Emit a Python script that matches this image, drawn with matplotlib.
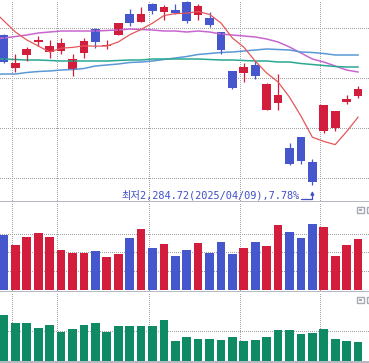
import matplotlib
matplotlib.use("Agg")
import matplotlib.pyplot as plt
from matplotlib.patches import Rectangle
import numpy as np
import pandas as pd

# KOSPI daily candles, 2025-02-28 .. 2025-04-15
opens = [2585, 2519, 2545, 2571, 2551, 2553, 2515, 2549, 2597, 2563, 2585, 2627, 2611, 2647, 2631, 2635,
         2651, 2625, 2619, 2591, 2513, 2509, 2525, 2435, 2449, 2359, 2381, 2331, 2393, 2399, 2451, 2463]
highs = [2587, 2547, 2561, 2583, 2575, 2579, 2547, 2579, 2599, 2575, 2609, 2637, 2641, 2649, 2645, 2647,
         2653, 2647, 2631, 2591, 2513, 2529, 2533, 2489, 2507, 2369, 2381, 2337, 2445, 2433, 2465, 2483]
lows = [2529, 2511, 2533, 2563, 2539, 2547, 2503, 2539, 2559, 2557, 2585, 2603, 2611, 2627, 2615, 2627,
        2609, 2615, 2601, 2547, 2477, 2491, 2497, 2435, 2435, 2325, 2327, 2284.72, 2389, 2393, 2447, 2459]
closes = [2531, 2529, 2557, 2575, 2563, 2569, 2537, 2573, 2571, 2565, 2609, 2609, 2627, 2633, 2641, 2629,
          2613, 2643, 2605, 2555, 2479, 2521, 2503, 2487, 2465, 2327, 2333, 2291, 2445, 2433, 2457, 2477]
# closes of the 5 days before the window (only for the 5-day average)
prev_closes = [2641, 2639, 2637, 2635, 2623]

# longer averages, first value is the day before the window
ma20 = [2577, 2579, 2582, 2585, 2589, 2591, 2593, 2593, 2593, 2593, 2594, 2595, 2597, 2596, 2595, 2593, 2593,
        2591, 2593, 2591, 2587, 2585, 2583, 2581, 2577, 2571, 2561, 2549, 2537, 2531, 2523, 2515, 2511]
ma60 = [2506, 2507, 2507, 2510, 2512, 2513, 2515, 2516, 2518, 2523, 2525, 2527, 2530, 2531, 2533, 2536, 2539,
        2542, 2546, 2548, 2550, 2551, 2553, 2555, 2557, 2556, 2555, 2551, 2550, 2548, 2545, 2545, 2545]
ma120 = [2537, 2537, 2536, 2535, 2535, 2534, 2533, 2533, 2533, 2533, 2533, 2534, 2535, 2535, 2537, 2537, 2537,
         2537, 2537, 2536, 2535, 2535, 2534, 2533, 2533, 2531, 2531, 2528, 2526, 2524, 2522, 2521, 2521]

volume = [55, 45, 53, 57, 53, 40, 37, 37, 39, 33, 36, 52, 61, 42, 46, 34,
          40, 47, 37, 48, 36, 42, 48, 44, 65, 58, 52, 66, 63, 34, 45, 51]
indicator = [46, 38, 38, 33, 36, 29, 32, 36, 38, 29, 35, 35, 35, 35, 41, 20,
             24, 22, 22, 21, 24, 20, 21, 24, 31, 31, 27, 28, 32, 22, 20, 19]

period_starts = [1, 5, 13, 21, 28]   # candles where a dotted vertical line sits
price_grid = [2300, 2400, 2500, 2600]
vol_grid = [19, 38, 56]
ind_grid = [30]
low_label = "최저2,284.72(2025/04/09),7.78%"

UP = "#d21d3c"
DOWN = "#4656cd"
GREEN = "#0e8a64"
SEP = "#b4b8c0"
GRID = "#a2a2a2"
TXT = "#3f4fc9"

W, H = 369, 363
fig = plt.figure(figsize=(W / 100, H / 100), dpi=100)
grid_kw = dict(color=GRID, lw=0.72, ls=(0, (1, 2)), antialiased=False)


def panel(top, bottom):
    ax = fig.add_axes([0, (H - bottom) / H, 1, (bottom - top) / H])
    for s in ("top", "left", "right"):
        ax.spines[s].set_visible(False)
    ax.spines["bottom"].set_color(SEP)
    ax.spines["bottom"].set_linewidth(1.4)
    ax.tick_params(length=0, labelleft=False, labelbottom=False)
    ax.set_xlim(-0.35, 31.96)
    ax.set_xticks([d - 0.33 for d in period_starts])
    ax.set_axisbelow(True)
    return ax


ax_p = panel(0, 202)
ax_v = panel(202, 292)
ax_i = panel(292, 361.5)

n = len(closes)
x = np.arange(n)
o = np.array(opens, float)
c = np.array(closes, float)
colors = [UP if cc >= oo else DOWN for oo, cc in zip(o, c)]

# price panel
ax_p.set_ylim(2251, 2655)
ax_p.set_yticks(price_grid)
ax_p.grid(True, **grid_kw)
ax_p.vlines(x, lows, highs, colors=colors, lw=0.9)
body = np.maximum(np.abs(c - o), 1.5)
ax_p.bar(x, body, bottom=np.minimum(o, c), width=0.76, color=colors, lw=0)

ma5 = pd.Series(prev_closes + closes).rolling(5).mean().dropna().values
xm = np.arange(-1, n)
ax_p.plot(xm, ma20, color="#c866cf", lw=1.1, zorder=1)
ax_p.plot(xm, ma60, color="#5b98d4", lw=1.1, zorder=1)
ax_p.plot(xm, ma120, color="#2aa893", lw=1.1, zorder=1)
ax_p.plot(xm, ma5, color="#e4575a", lw=0.9, zorder=3)

i_low = int(np.argmin(lows))
ax_p.text(i_low - 1.15, 2265, low_label, ha="right", va="center", color=TXT,
          fontsize=7.4, family=["DejaVu Sans Mono", "Noto Sans CJK KR"])
ax_p.annotate("", xy=(i_low, 2273), xytext=(i_low - 1.0, 2257),
              arrowprops=dict(arrowstyle="-|>", color=TXT, lw=0.9, mutation_scale=5,
                              shrinkA=0, shrinkB=0,
                              connectionstyle="angle,angleA=0,angleB=90,rad=0"))

# volume panel
ax_v.set_ylim(-2, 88)
ax_v.set_yticks(vol_grid)
ax_v.grid(True, **grid_kw)
ax_v.bar(x, volume, width=0.76, color=colors, lw=0)

# lower indicator panel
ax_i.set_ylim(-0.5, 69)
ax_i.set_yticks(ind_grid)
ax_i.grid(True, **grid_kw)
ax_i.bar(x, indicator, width=0.76, color=GREEN, lw=0)


# little maximize buttons in the panel corners
def px_rect(x0, y0, w, h, **kw):
    fig.add_artist(Rectangle((x0 / W, 1 - (y0 + h) / H), w / W, h / H,
                             transform=fig.transFigure, **kw))


for top in (206, 296):
    for left in (356, 366):
        px_rect(left + 0.5, top + 0.5, 7.5, 6.5, fill=False, ec="#a6aab2", lw=1.0)
        px_rect(left + 2.5, top + 2.5, 3.5, 2.5, fc="#a6aab2", ec="none")

fig.savefig("out.png", dpi=100)
